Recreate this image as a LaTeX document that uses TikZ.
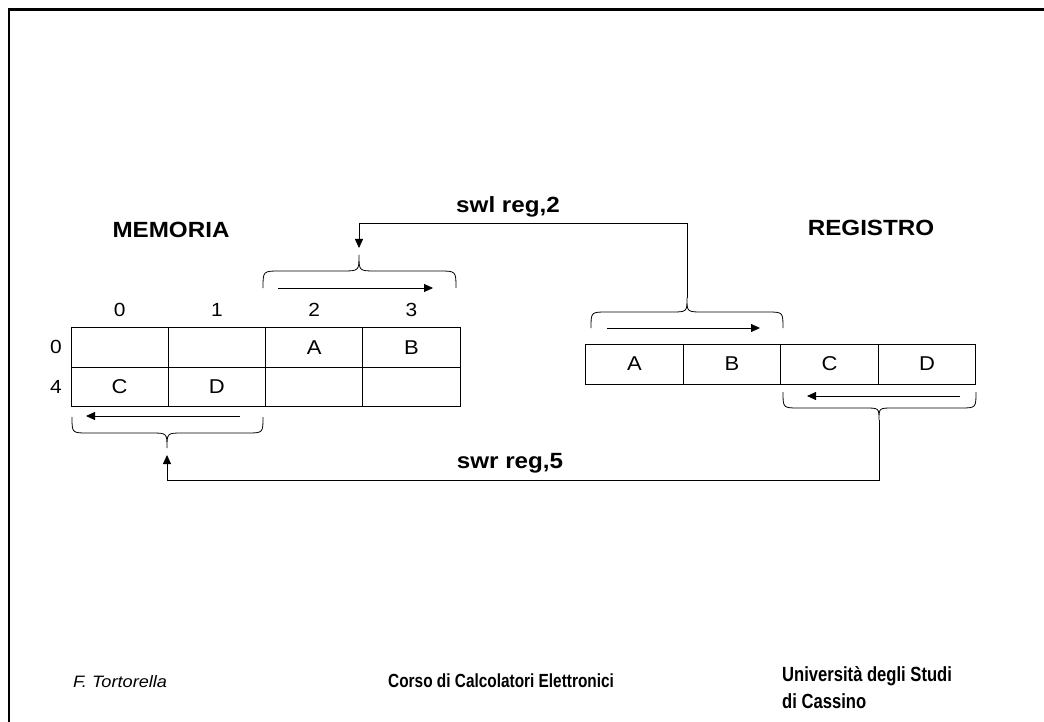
\documentclass[tikz,border=0pt]{standalone}
\usepackage{fontspec}
\setmainfont[FakeStretch=1.1]{Liberation Sans}
\newfontfamily\footfont[FakeStretch=0.81]{Liberation Sans}
\usetikzlibrary{arrows.meta}
\tikzset{
  cell/.style={draw, line width=0.9pt, minimum width=97.25pt, minimum height=39.5pt, inner sep=0pt, font=\fontsize{20}{20}\selectfont},
  rcell/.style={cell, minimum width=97.5pt, minimum height=40pt},
  lbl/.style={inner sep=0pt, font=\fontsize{19}{19}\selectfont},
  title/.style={inner sep=0pt, anchor=base, font=\fontsize{22}{22}\selectfont\bfseries},
  brc/.style={line width=0.8pt},
  arr/.style={line width=0.8pt, -{Triangle[length=9pt,width=8pt]}},
  foot/.style={inner sep=0pt, anchor=base west},
}
\begin{document}
\begin{tikzpicture}[x=1pt,y=-1pt]
\useasboundingbox (0,0) rectangle (1044,722);
\draw[line width=2.6pt] (9,722) -- (9,9.5) -- (1044,9.5);

% memory
\node[cell] (m00) at (119.6,347.3) {};
\node[cell] (m01) at (216.9,347.3) {};
\node[cell] (m02) at (314.1,347.3) {A};
\node[cell] (m03) at (411.4,347.3) {B};
\node[cell] (m10) at (119.6,386.8) {C};
\node[cell] (m11) at (216.9,386.8) {D};
\node[cell] (m12) at (314.1,386.8) {};
\node[cell] (m13) at (411.4,386.8) {};
\node[lbl] (c0) at (119.6,310) {0};
\node[lbl] (c1) at (216.9,310) {1};
\node[lbl] (c2) at (314.1,310) {2};
\node[lbl] (c3) at (411.4,310) {3};
\node[lbl] (r0) at (56,347.3) {0};
\node[lbl] (r4) at (56,386.8) {4};
\node[title] (mem) at (171,237) {MEMORIA};

% register
\node[rcell] (g0) at (634.5,364) {A};
\node[rcell] (g1) at (732,364) {B};
\node[rcell] (g2) at (829.5,364) {C};
\node[rcell] (g3) at (927,364) {D};
\node[title] (reg) at (871,236) {REGISTRO};

% braces
\draw[brc] (263,288) .. controls (263,271) .. (280,271) -- (342,271) .. controls (359,271) .. (359,255) coordinate (mtip)
  .. controls (359,271) .. (376,271) -- (439,271) .. controls (456,271) .. (456,288);
\draw[brc] (591,328) .. controls (591,312) .. (607,312) -- (671,312) .. controls (687,312) .. (687,298) coordinate (rtip)
  .. controls (687,312) .. (703,312) -- (767,312) .. controls (783,312) .. (783,328);
\draw[brc] (72,417) .. controls (72,433) .. (88,433) -- (151,433) .. controls (167,433) .. (167,448) coordinate (mbtip)
  .. controls (167,433) .. (183,433) -- (247,433) .. controls (263,433) .. (263,417);
\draw[brc] (783,392) .. controls (783,408) .. (799,408) -- (865,408) .. controls (879,408) .. (879,420) coordinate (rbtip)
  .. controls (879,408) .. (893,408) -- (960,408) .. controls (976,408) .. (976,392);

% inner arrows
\coordinate (a1s) at (278,288); \coordinate (a1e) at (433,288);
\coordinate (a2s) at (240,416); \coordinate (a2e) at (86,416);
\coordinate (a3s) at (607,328); \coordinate (a3e) at (760,328);
\coordinate (a4s) at (960,396); \coordinate (a4e) at (807,396);
\draw[arr] (a1s) -- (a1e);
\draw[arr] (a2s) -- (a2e);
\draw[arr] (a3s) -- (a3e);
\draw[arr] (a4s) -- (a4e);

% connectors
\draw[arr, shorten >=7pt] (rtip) |- (359,223) -- (mtip);
\draw[arr, shorten >=7pt] (rbtip) |- (167,480) -- (mbtip);
\node[title] (swl) at (508,213) {swl reg,2};
\node[title] (swr) at (510,468) {swr reg,5};

% footer
\node[foot, font=\fontsize{16.5}{17}\selectfont\itshape] (auth) at (73,687) {F. Tortorella};
\node[foot, font=\fontsize{19}{19}\footfont\bfseries] (corso) at (388,687) {Corso di Calcolatori Elettronici};
\node[foot, font=\fontsize{20.5}{21}\footfont\bfseries] (univ1) at (782,681) {Università degli Studi};
\node[foot, font=\fontsize{20.5}{21}\footfont\bfseries] (univ2) at (782,708) {di Cassino};
\end{tikzpicture}
\end{document}
